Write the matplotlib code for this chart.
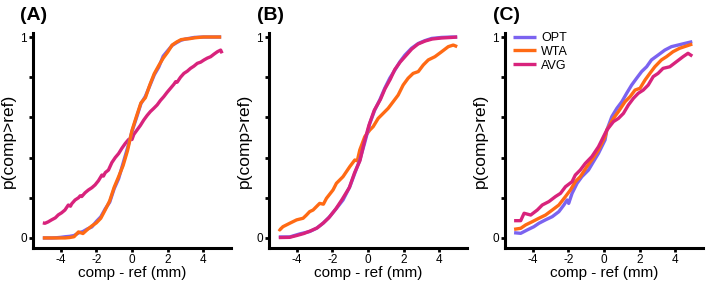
import matplotlib
matplotlib.use("Agg")
import matplotlib.pyplot as plt

plt.rcParams['font.family'] = ['Liberation Sans', 'DejaVu Sans']

# ---------------- data ----------------
series_names = ["OPT", "WTA", "AVG"]
panel_labels = ["(A)", "(B)", "(C)"]
x_ticks = [-4, -2, 0, 2, 4]
y_ticks = [0, 0.2, 0.4, 0.6, 0.8, 1]
y_ticklabels = ["0", "", "", "", "", "1"]

# Panel A
a_x = [-5.0, -4.75, -4.5, -4.25, -4.0, -3.75, -3.5, -3.25, -3.0, -2.75, -2.5, -2.25, -2.0, -1.75,
       -1.5, -1.25, -1.0, -0.75, -0.5, -0.25, 0.0, 0.25, 0.5, 0.75, 1.0, 1.25, 1.5, 1.75, 2.0, 2.25,
       2.5, 2.75, 3.0, 3.25, 3.5, 3.75, 4.0, 4.25, 4.5, 4.75, 5.0]
a_opt_y = [0.0, 0.0, 0.0, 0.001, 0.003, 0.006, 0.008, 0.012, 0.025, 0.032, 0.045, 0.055, 0.082, 0.105,
           0.145, 0.178, 0.245, 0.295, 0.372, 0.448, 0.530, 0.598, 0.668, 0.705, 0.758, 0.812, 0.850,
           0.905, 0.932, 0.958, 0.972, 0.984, 0.990, 0.994, 0.998, 0.999, 1.0, 1.0, 1.0, 1.0, 1.0]
a_wta_y = [0.0, 0.0, 0.0, 0.0, 0.0, 0.0, 0.002, 0.006, 0.030, 0.022, 0.042, 0.060, 0.075, 0.098,
           0.140, 0.185, 0.252, 0.305, 0.360, 0.435, 0.535, 0.605, 0.672, 0.698, 0.762, 0.818, 0.858,
           0.895, 0.925, 0.960, 0.975, 0.987, 0.990, 0.992, 0.996, 0.998, 1.0, 1.0, 1.0, 1.0, 1.0]
a_avg_x = [-5.0, -4.88, -4.7, -4.51, -4.3, -4.13, -3.95, -3.76, -3.57, -3.45, -3.38, -3.19, -3.0, -2.9,
           -2.82, -2.63, -2.44, -2.25, -2.07, -1.88, -1.69, -1.6, -1.5, -1.32, -1.13, -0.94, -0.75, -0.57,
           -0.38, -0.19, 0.0, 0.1, 0.28, 0.47, 0.66, 0.85, 1.03, 1.22, 1.41, 1.6, 1.78, 1.97, 2.16, 2.35,
           2.45, 2.53, 2.72, 2.91, 3.1, 3.28, 3.47, 3.66, 3.85, 4.04, 4.22, 4.41, 4.6, 4.79, 4.97, 5.05]
a_avg_y = [0.075, 0.073, 0.08, 0.09, 0.10, 0.115, 0.125, 0.139, 0.164, 0.158, 0.17, 0.189, 0.20, 0.210,
           0.206, 0.225, 0.239, 0.25, 0.264, 0.285, 0.313, 0.308, 0.325, 0.338, 0.375, 0.40, 0.42, 0.446,
           0.47, 0.49, 0.49, 0.515, 0.537, 0.56, 0.587, 0.61, 0.629, 0.645, 0.662, 0.685, 0.703, 0.725,
           0.745, 0.765, 0.778, 0.775, 0.80, 0.819, 0.83, 0.844, 0.855, 0.869, 0.875, 0.886, 0.895, 0.902,
           0.915, 0.927, 0.935, 0.919]

# Panel B
b_opt_x = [-5.0, -4.39, -3.83, -3.27, -2.89, -2.52, -2.15, -1.77, -1.4, -1.02, -0.74, -0.46, -0.18, 0.1,
           0.38, 0.66, 0.94, 1.22, 1.51, 1.79, 2.07, 2.44, 2.82, 3.19, 3.57, 4.13, 4.69, 5.0]
b_opt_y = [0.005, 0.005, 0.02, 0.032, 0.048, 0.073, 0.106, 0.147, 0.189, 0.255, 0.322, 0.388, 0.475, 0.57,
           0.637, 0.687, 0.745, 0.795, 0.836, 0.877, 0.91, 0.944, 0.968, 0.982, 0.993, 0.998, 1.0, 1.0]
b_wta_x = [-5.0, -4.95, -4.77, -4.39, -4.0, -3.64, -3.45, -3.27, -3.08, -2.71, -2.5, -2.33, -1.96, -1.77,
           -1.4, -1.02, -0.74, -0.6, -0.46, -0.18, 0.1, 0.29, 0.57, 0.85, 1.13, 1.41, 1.69, 1.97, 2.25,
           2.53, 2.82, 3.1, 3.38, 3.75, 4.13, 4.5, 4.78, 5.0]
b_wta_y = [0.045, 0.04, 0.056, 0.073, 0.09, 0.098, 0.114, 0.131, 0.139, 0.172, 0.168, 0.197, 0.239, 0.272,
           0.305, 0.355, 0.388, 0.384, 0.438, 0.504, 0.537, 0.554, 0.595, 0.62, 0.645, 0.678, 0.711, 0.761,
           0.795, 0.819, 0.828, 0.861, 0.886, 0.902, 0.927, 0.952, 0.96, 0.952]
b_avg_x = [-5.0, -4.4, -4.0, -3.6, -3.2, -2.85, -2.5, -2.2, -1.8, -1.45, -1.05, -0.75, -0.45, -0.2, 0.05,
           0.35, 0.7, 0.95, 1.25, 1.5, 1.8, 2.1, 2.45, 2.8, 3.2, 3.6, 4.1, 4.7, 5.0]
b_avg_y = [0.002, 0.003, 0.012, 0.022, 0.036, 0.05, 0.075, 0.10, 0.145, 0.192, 0.25, 0.325, 0.385, 0.48,
           0.56, 0.635, 0.69, 0.742, 0.79, 0.838, 0.875, 0.905, 0.94, 0.965, 0.98, 0.99, 0.995, 0.998, 1.0]

# Panel C
c_opt_x = [-5.04, -4.67, -4.3, -3.93, -3.65, -3.28, -2.9, -2.53, -2.25, -2.07, -1.98, -1.79, -1.51, -1.24,
           -0.87, -0.59, -0.31, 0.06, 0.16, 0.44, 0.72, 1.0, 1.27, 1.55, 1.83, 2.11, 2.39, 2.66, 3.03,
           3.41, 3.78, 4.15, 4.52, 4.95]
c_opt_y = [0.026, 0.023, 0.04, 0.056, 0.073, 0.09, 0.106, 0.131, 0.164, 0.189, 0.172, 0.222, 0.272, 0.305,
           0.338, 0.38, 0.421, 0.488, 0.537, 0.604, 0.645, 0.678, 0.72, 0.761, 0.795, 0.828, 0.852, 0.886,
           0.91, 0.935, 0.952, 0.96, 0.968, 0.977]
c_wta_x = [-5.04, -4.67, -4.39, -4.02, -3.65, -3.28, -2.9, -2.53, -2.16, -1.88, -1.61, -1.33, -0.96, -0.68,
           -0.31, 0.06, 0.16, 0.53, 0.81, 1.18, 1.46, 1.74, 2.02, 2.3, 2.57, 2.85, 3.22, 3.5, 3.87, 4.24,
           4.61, 4.95]
c_wta_y = [0.043, 0.048, 0.065, 0.081, 0.098, 0.114, 0.139, 0.164, 0.206, 0.239, 0.28, 0.305, 0.355, 0.388,
           0.438, 0.504, 0.537, 0.595, 0.629, 0.678, 0.703, 0.736, 0.745, 0.786, 0.819, 0.852, 0.886, 0.902,
           0.927, 0.944, 0.955, 0.965]
c_avg_x = [-5.04, -4.67, -4.48, -4.11, -3.74, -3.46, -3.09, -2.72, -2.44, -2.16, -1.79, -1.61, -1.33, -1.05,
           -0.68, -0.31, 0.06, 0.16, 0.53, 0.81, 1.09, 1.37, 1.65, 1.92, 2.2, 2.48, 2.76, 3.03, 3.31, 3.69,
           4.06, 4.43, 4.71, 4.95]
c_avg_y = [0.086, 0.086, 0.123, 0.114, 0.139, 0.164, 0.181, 0.206, 0.222, 0.255, 0.28, 0.313, 0.338, 0.371,
           0.405, 0.454, 0.52, 0.537, 0.579, 0.595, 0.62, 0.662, 0.695, 0.72, 0.736, 0.761, 0.803, 0.819,
           0.844, 0.852, 0.877, 0.902, 0.919, 0.905]

colors = {"OPT": "#7b63f0", "WTA": "#ff6a14", "AVG": "#d8237c"}

panels = [
    {"OPT": (a_x, a_opt_y), "WTA": (a_x, a_wta_y), "AVG": (a_avg_x, a_avg_y),
     "order": ["AVG", "OPT", "WTA"]},
    {"OPT": (b_opt_x, b_opt_y), "WTA": (b_wta_x, b_wta_y), "AVG": (b_avg_x, b_avg_y),
     "order": ["WTA", "OPT", "AVG"]},
    {"OPT": (c_opt_x, c_opt_y), "WTA": (c_wta_x, c_wta_y), "AVG": (c_avg_x, c_avg_y),
     "order": ["OPT", "WTA", "AVG"]},
]

W, H = 708, 283
fig = plt.figure(figsize=(W / 100, H / 100), dpi=100)
lefts = [33, 269, 505]
ax_w, ax_bottom, ax_top = 198, 248, 33
label_x = [20, 257, 493]

for i, p in enumerate(panels):
    ax = fig.add_axes([lefts[i] / W, 1 - ax_bottom / H, ax_w / W, (ax_bottom - ax_top) / H])
    handles = {}
    for name in p["order"]:
        xs, ys = p[name]
        (ln,) = ax.plot(xs, ys, color=colors[name], lw=2.4, solid_joinstyle="round",
                        solid_capstyle="butt", label=name)
        handles[name] = ln
    ax.set_xlim(-5.55, 5.55)
    ax.set_ylim(-0.05, 1.02)
    for s in ["top", "right"]:
        ax.spines[s].set_visible(False)
    for s in ["left", "bottom"]:
        ax.spines[s].set_linewidth(2.2)
    ax.set_xticks(x_ticks)
    ax.set_xticklabels([str(t) for t in x_ticks])
    ax.set_yticks(y_ticks)
    ax.set_yticklabels(y_ticklabels)
    ax.tick_params(axis="both", direction="out", length=3, width=2, labelsize=8.5, pad=1.5)
    ax.set_xlabel("comp - ref (mm)", fontsize=11, labelpad=0)
    ax.set_ylabel("p(comp>ref)", fontsize=12.5, labelpad=3)
    fig.text(label_x[i] / W, 1 - 15 / H, panel_labels[i], fontsize=14, fontweight="bold",
             ha="left", va="center")
    if i == 2:
        ax.legend([handles[n] for n in series_names], series_names, loc="upper left",
                  bbox_to_anchor=(0.0, 1.04), frameon=False, fontsize=9, handlelength=1.9,
                  handletextpad=0.4, labelspacing=0.15, borderaxespad=0.2)

fig.savefig("out.png", dpi=100)
